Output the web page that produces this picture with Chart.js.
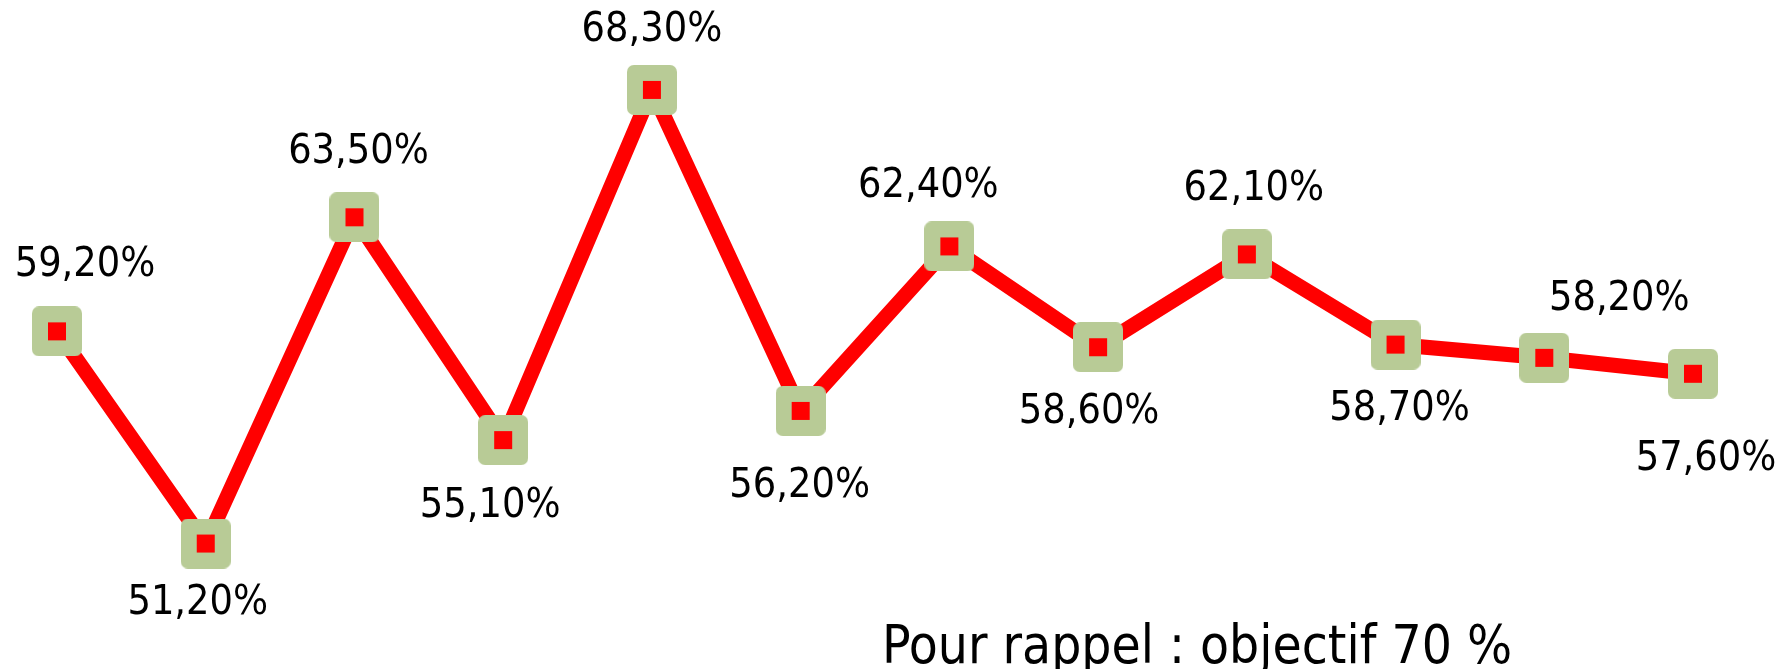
<!DOCTYPE html>
<html>
<head>
<meta charset="utf-8">
<script src="https://cdn.jsdelivr.net/npm/chart.js@4/dist/chart.umd.min.js"></script>
<style>
  html, body { margin: 0; padding: 0; background: #ffffff; }
  #wrap { position: relative; width: 1781px; height: 669px; }
  canvas { display: block; }
</style>
</head>
<body>
<div id="wrap"><canvas id="chart" width="1781" height="669"></canvas></div>
<script>
// Monthly rates (%)
const categories = ['1', '2', '3', '4', '5', '6', '7', '8', '9', '10', '11', '12'];
const rates = [59.2, 51.2, 63.5, 55.1, 68.3, 56.2, 62.4, 58.6, 62.1, 58.7, 58.2, 57.6];
const reminderText = 'Pour rappel : objectif 70 %';

// Label placement around each point (text centre offset from the point, px)
const labelOffsets = [
  [28, -66], [-8, 60], [4, -65], [-13, 66], [0, -60], [-1, 75],
  [-21, -60], [-9, 65], [7, -65], [4, 65], [75, -58], [13, 86]
];

const LABEL_FONT = '41px "DejaVu Sans Condensed", "DejaVu Sans", sans-serif';

// Marker: green rounded square with a red centre
function makeMarker() {
  const c = document.createElement('canvas');
  c.width = 50; c.height = 50;
  const g = c.getContext('2d');
  g.fillStyle = '#b8cb96';
  g.beginPath();
  g.roundRect(0, 0, 50, 50, 7);
  g.fill();
  g.fillStyle = '#ff0000';
  g.fillRect(16, 16, 18, 18);
  return c;
}

const valueLabels = {
  id: 'valueLabels',
  afterDatasetsDraw(chart) {
    const ctx = chart.ctx;
    const meta = chart.getDatasetMeta(0);
    ctx.save();
    ctx.font = LABEL_FONT;
    ctx.fillStyle = '#000000';
    ctx.textAlign = 'center';
    ctx.textBaseline = 'middle';
    meta.data.forEach((pt, i) => {
      const v = chart.data.datasets[0].data[i];
      const txt = v.toFixed(2).replace('.', ',') + '%';
      const off = labelOffsets[i];
      ctx.fillText(txt, pt.x + off[0], pt.y + off[1]);
    });
    ctx.restore();
  }
};

const reminder = {
  id: 'reminder',
  afterDraw(chart) {
    const ctx = chart.ctx;
    ctx.save();
    let size = 54;
    ctx.font = size + 'px "DejaVu Sans Condensed", "DejaVu Sans", sans-serif';
    const w = ctx.measureText(reminderText).width;
    size = size * 630 / w;
    ctx.font = size.toFixed(1) + 'px "DejaVu Sans Condensed", "DejaVu Sans", sans-serif';
    ctx.fillStyle = '#000000';
    ctx.textAlign = 'left';
    ctx.textBaseline = 'alphabetic';
    ctx.fillText(reminderText, 882, 663);
    ctx.restore();
  }
};

new Chart(document.getElementById('chart'), {
  type: 'line',
  data: {
    labels: categories,
    datasets: [{
      data: rates,
      borderColor: '#ff0000',
      borderWidth: 15,
      borderJoinStyle: 'miter',
      tension: 0,
      fill: false,
      pointStyle: makeMarker(),
      pointRadius: 25,
      pointHoverRadius: 25,
      clip: false
    }]
  },
  options: {
    responsive: false,
    devicePixelRatio: 1,
    animation: false,
    events: [],
    layout: { autoPadding: false, padding: { left: 57, right: 88, top: 0, bottom: 0 } },
    plugins: {
      legend: { display: false },
      tooltip: { enabled: false },
      title: { display: false }
    },
    scales: {
      x: { display: false, offset: false },
      y: { display: false, min: 46.47, max: 71.69 }
    }
  },
  plugins: [valueLabels, reminder]
});
</script>
</body>
</html>
